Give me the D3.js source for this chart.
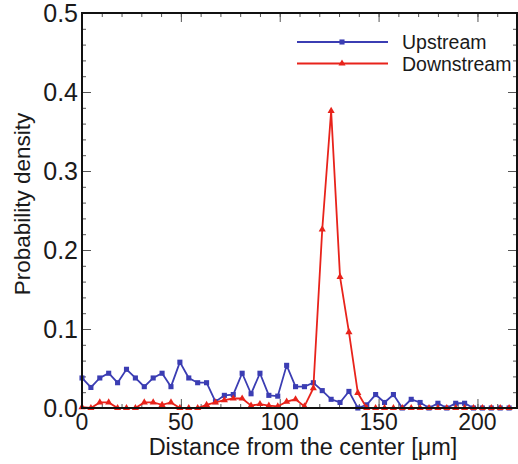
<!DOCTYPE html>
<html>
<head>
<meta charset="utf-8">
<script src="https://cdn.jsdelivr.net/npm/d3@7"></script>
<style>
  body { margin: 0; background: #fff; }
  text { font-family: "Liberation Sans", Arial, sans-serif; fill: #1a1a1a; }
</style>
</head>
<body>
<script>
// distance from the center (um), one bin every 4.5 um
const distance = [0, 4.5, 9, 13.5, 18, 22.5, 27, 31.5, 36, 40.5, 45, 49.5, 54, 58.5, 63, 67.5,
  72, 76.5, 81, 85.5, 90, 94.5, 99, 103.5, 108, 112.5, 117, 121.5, 126, 130.5, 135, 139.5,
  144, 148.5, 153, 157.5, 162, 166.5, 171, 175.5, 180, 184.5, 189, 193.5, 198, 202.5, 207, 211.5, 216];

const upstream = [0.038, 0.026, 0.038, 0.044, 0.032, 0.049, 0.038, 0.027, 0.038, 0.044, 0.027, 0.058,
  0.038, 0.032, 0.032, 0.008, 0.016, 0.017, 0.044, 0.018, 0.044, 0.016, 0.015, 0.054,
  0.027, 0.027, 0.032, 0.022, 0.011, 0.007, 0.021, 0.0, 0.004, 0.017, 0.007, 0.017,
  0.0, 0.011, 0.007, 0.0, 0.006, 0.0, 0.006, 0.006, 0.0, 0.0, 0.0, 0.0, 0.0];

const downstream = [0.001, 0.0, 0.007, 0.007, 0.0, 0.0, 0.0, 0.007, 0.007, 0.004, 0.007, 0.0,
  0.0, 0.0, 0.004, 0.007, 0.010, 0.012, 0.012, 0.003, 0.005, 0.003, 0.002, 0.008,
  0.011, 0.002, 0.025, 0.226, 0.376, 0.166, 0.096, 0.019, 0.0, 0.0, 0.0, 0.0,
  0.0, 0.0, 0.0, 0.0, 0.0, 0.0, 0.0, 0.0, 0.0, 0.0, 0.0, 0.0, 0.0];

const xTicks = [0, 50, 100, 150, 200];
const yTicks = [0.0, 0.1, 0.2, 0.3, 0.4, 0.5];

const series = [
  { name: "Upstream", values: upstream, color: "#3b3db3", marker: d3.symbolSquare },
  { name: "Downstream", values: downstream, color: "#e8231b", marker: d3.symbolTriangle }
];

const width = 518, height = 464;
const plotLeft = 82, plotRight = 517, plotTop = 13, plotBottom = 408;

const svg = d3.select("body").append("svg")
  .attr("width", width)
  .attr("height", height);

const x = d3.scaleLinear().domain([0, 220]).range([plotLeft, plotRight]);
const y = d3.scaleLinear().domain([0, 0.5]).range([plotBottom, plotTop]);

// inward ticks on all four sides
const minorX = d3.range(0, 221, 10);
const minorY = d3.range(0, 0.501, 0.02);

const frame = svg.append("g").attr("class", "frame");

frame.append("g").attr("transform", `translate(0,${plotBottom})`)
  .call(d3.axisTop(x).tickSize(4).tickValues(minorX).tickFormat("").tickSizeOuter(0));
frame.append("g").attr("transform", `translate(0,${plotBottom})`)
  .call(d3.axisTop(x).tickSize(9).tickValues(xTicks).tickFormat("").tickSizeOuter(0));
frame.append("g").attr("transform", `translate(0,${plotTop})`)
  .call(d3.axisBottom(x).tickSize(4).tickValues(minorX).tickFormat("").tickSizeOuter(0));
frame.append("g").attr("transform", `translate(0,${plotTop})`)
  .call(d3.axisBottom(x).tickSize(9).tickValues(xTicks).tickFormat("").tickSizeOuter(0));

frame.append("g").attr("transform", `translate(${plotLeft},0)`)
  .call(d3.axisRight(y).tickSize(4).tickValues(minorY).tickFormat("").tickSizeOuter(0));
frame.append("g").attr("transform", `translate(${plotLeft},0)`)
  .call(d3.axisRight(y).tickSize(9).tickValues(yTicks).tickFormat("").tickSizeOuter(0));
frame.append("g").attr("transform", `translate(${plotRight},0)`)
  .call(d3.axisLeft(y).tickSize(4).tickValues(minorY).tickFormat("").tickSizeOuter(0));
frame.append("g").attr("transform", `translate(${plotRight},0)`)
  .call(d3.axisLeft(y).tickSize(9).tickValues(yTicks).tickFormat("").tickSizeOuter(0));

frame.selectAll(".tick line").attr("stroke", "#555").attr("stroke-width", 1);
frame.selectAll(".domain").remove();

// tick labels
svg.append("g").selectAll("text")
  .data(xTicks)
  .enter()
  .append("text")
  .attr("x", d => x(d))
  .attr("y", 430)
  .attr("text-anchor", "middle")
  .attr("font-size", 23)
  .text(d => d);

svg.append("g").selectAll("text")
  .data(yTicks)
  .enter()
  .append("text")
  .attr("x", 78)
  .attr("y", d => y(d) + 8.5)
  .attr("text-anchor", "end")
  .attr("font-size", 25)
  .text(d => d3.format(".1f")(d));

// axis titles
svg.append("text")
  .attr("x", 303)
  .attr("y", 455)
  .attr("text-anchor", "middle")
  .attr("font-size", 23.5)
  .text("Distance from the center [μm]");

svg.append("text")
  .attr("transform", "translate(30,204) rotate(-90)")
  .attr("text-anchor", "middle")
  .attr("font-size", 22.5)
  .text("Probability density");

// lines and markers
const line = d3.line()
  .x((d, i) => x(distance[i]))
  .y(d => y(d));

const plot = svg.append("g");

series.forEach(s => {
  plot.append("path")
    .datum(s.values)
    .attr("fill", "none")
    .attr("stroke", s.color)
    .attr("stroke-width", 1.8)
    .attr("d", line);

  plot.selectAll(null)
    .data(s.values)
    .enter()
    .append("path")
    .attr("d", d3.symbol().type(s.marker).size(s.marker === d3.symbolSquare ? 26 : 22))
    .attr("transform", (d, i) => `translate(${x(distance[i])},${y(d)})`)
    .attr("fill", s.color);
});

// frame box on top
svg.append("rect")
  .attr("x", plotLeft)
  .attr("y", plotTop)
  .attr("width", plotRight - plotLeft)
  .attr("height", plotBottom - plotTop)
  .attr("fill", "none")
  .attr("stroke", "#111")
  .attr("stroke-width", 2);

// legend
const legend = svg.append("g");
series.forEach((s, i) => {
  const ly = 42 + i * 21.5;
  legend.append("line")
    .attr("x1", 297).attr("x2", 388)
    .attr("y1", ly).attr("y2", ly)
    .attr("stroke", s.color)
    .attr("stroke-width", 1.8);
  legend.append("path")
    .attr("d", d3.symbol().type(s.marker).size(s.marker === d3.symbolSquare ? 26 : 22))
    .attr("transform", `translate(342,${ly})`)
    .attr("fill", s.color);
  legend.append("text")
    .attr("x", 402)
    .attr("y", ly + 7)
    .attr("font-size", 19.5)
    .text(s.name);
});
</script>
</body>
</html>
